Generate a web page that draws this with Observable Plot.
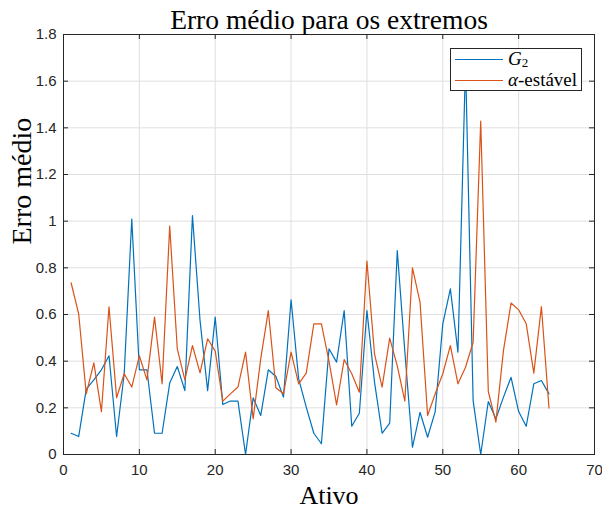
<!DOCTYPE html>
<html><head><meta charset="utf-8">
<script src="https://cdn.jsdelivr.net/npm/d3@7"></script>
<script src="https://cdn.jsdelivr.net/npm/@observablehq/plot@0.6"></script>
<style>
body{margin:0;background:#fff;}
#wrap{position:relative;width:602px;height:509px;}
#legend{position:absolute;left:450px;top:48px;width:132px;height:43px;border:1px solid #262626;background:#fff;box-sizing:border-box;font-family:"Liberation Serif","Times New Roman",serif;font-size:19px;color:#000;}
#legend .row{position:absolute;left:0;height:20px;width:100%;}
#legend .sw{position:absolute;left:4px;top:9.5px;width:48px;height:1.2px;}
#legend .lab{position:absolute;left:57px;top:0;line-height:20px;height:20px;white-space:nowrap;}
#legend sub{font-size:13px;vertical-align:-2px;line-height:0;font-style:normal;}
</style></head>
<body><div id="wrap"></div>
<script>
// ---- data ----
const ativo = [1,2,3,4,5,6,7,8,9,10,11,12,13,14,15,16,17,18,19,20,21,22,23,24,25,26,27,28,29,30,31,32,
  33,34,35,36,37,38,39,40,41,42,43,44,45,46,47,48,49,50,51,52,53,54,55,56,57,58,59,60,61,62,63,64];
const g2 = [0.091,0.077,0.28,0.32,0.363,0.423,0.077,0.345,1.009,0.363,0.363,0.091,0.091,0.306,0.377,0.274,
  1.024,0.574,0.274,0.589,0.214,0.229,0.229,0.0,0.243,0.167,0.363,0.334,0.246,0.663,0.324,0.203,
  0.091,0.046,0.453,0.396,0.617,0.121,0.177,0.617,0.31,0.091,0.134,0.874,0.44,0.031,0.181,0.074,
  0.184,0.56,0.71,0.439,1.68,0.231,0.0,0.227,0.153,0.246,0.331,0.184,0.121,0.303,0.317,0.26];
const alfaEstavel = [0.736,0.603,0.26,0.393,0.184,0.633,0.243,0.346,0.289,0.423,0.32,0.589,0.303,0.979,0.453,0.32,
  0.467,0.35,0.496,0.443,0.229,0.26,0.289,0.439,0.153,0.41,0.617,0.286,0.26,0.439,0.303,0.349,
  0.56,0.56,0.40,0.213,0.407,0.346,0.267,0.829,0.431,0.289,0.499,0.38,0.229,0.8,0.653,0.167,
  0.26,0.346,0.467,0.303,0.374,0.481,1.429,0.27,0.139,0.446,0.649,0.62,0.56,0.349,0.634,0.199];
const series = ["G2","α-estável"];
const seriesHtml = ["<i>G</i><sub>2</sub>","<i>α</i>-estável"];
const colors = ["#0072BD","#D95319"];
const xTicks = [0,10,20,30,40,50,60,70];
const yTicks = [0,0.2,0.4,0.6,0.8,1,1.2,1.4,1.6,1.8];
const title = "Erro médio para os extremos";
const xLabel = "Ativo";
const yLabel = "Erro médio";

// ---- table ----
const rows = [];
ativo.forEach((a,i)=>{ rows.push({ativo:a, erro:g2[i], serie:series[0]}); });
ativo.forEach((a,i)=>{ rows.push({ativo:a, erro:alfaEstavel[i], serie:series[1]}); });

const W=602,H=509,mL=63,mR=8,mT=34,mB=55;
const iw=W-mL-mR, ih=H-mT-mB;
const serif = "'Liberation Serif','Times New Roman',serif";
const axc = "#262626";

const chart = Plot.plot({
  width:W, height:H, marginLeft:mL, marginRight:mR, marginTop:mT, marginBottom:mB,
  style:{background:"transparent", fontFamily:"'Liberation Sans',Arial,sans-serif", fontSize:"15px", color:axc},
  x:{domain:[0,70]},
  y:{domain:[0,1.8]},
  color:{domain:series, range:colors},
  marks:[
    Plot.gridX(xTicks,{stroke:"#dfdfdf", strokeOpacity:1}),
    Plot.gridY(yTicks,{stroke:"#dfdfdf", strokeOpacity:1}),
    Plot.line(rows,{x:"ativo", y:"erro", z:"serie", stroke:"serie", strokeWidth:1.2}),
    Plot.frame({stroke:axc}),
    Plot.tickX(xTicks,{x:d=>d, stroke:axc, insetTop:ih-5}),
    Plot.tickX(xTicks,{x:d=>d, stroke:axc, insetBottom:ih-5}),
    Plot.tickY(yTicks,{y:d=>d, stroke:axc, insetRight:iw-5}),
    Plot.tickY(yTicks,{y:d=>d, stroke:axc, insetLeft:iw-5}),
    Plot.axisX(xTicks,{tickSize:0, tickPadding:10, label:null, fill:axc}),
    Plot.axisY(yTicks,{tickSize:0, tickPadding:7, label:null, fill:axc, tickFormat:d=>String(+d.toFixed(1))}),
    Plot.text([title],{frameAnchor:"top", lineAnchor:"bottom", dy:-6, fontSize:27.5, fontFamily:serif, fill:"#000"}),
    Plot.text([xLabel],{frameAnchor:"bottom", lineAnchor:"bottom", dy:49, fontSize:26, fontFamily:serif, fill:"#000"}),
    Plot.text([yLabel],{frameAnchor:"left", rotate:-90, dx:-41, fontSize:28, fontFamily:serif, fill:"#000"})
  ]
});
const wrap = document.getElementById("wrap");
wrap.appendChild(chart);

// legend
const lg = document.createElement("div");
lg.id = "legend";
series.forEach((s,i)=>{
  const r = document.createElement("div");
  r.className = "row";
  r.style.top = (i===0 ? 0 : 21) + "px";
  r.innerHTML = `<span class="sw" style="background:${colors[i]}"></span><span class="lab">${seriesHtml[i]}</span>`;
  lg.appendChild(r);
});
wrap.appendChild(lg);
</script>
</body></html>
